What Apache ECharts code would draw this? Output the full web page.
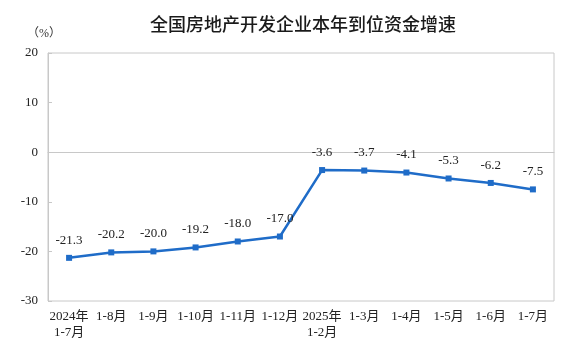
<!DOCTYPE html>
<html>
<head>
<meta charset="utf-8">
<script src="https://cdn.jsdelivr.net/npm/echarts@6/dist/echarts.min.js"></script>
<style>
html,body{margin:0;padding:0;background:#fff;}
#main{width:578px;height:353px;}
</style>
</head>
<body>
<div id="main"></div>
<script>
var categories = ['2024年\n1-7月','1-8月','1-9月','1-10月','1-11月','1-12月','2025年\n1-2月','1-3月','1-4月','1-5月','1-6月','1-7月'];
var growth = [-21.3,-20.2,-20.0,-19.2,-18.0,-17.0,-3.6,-3.7,-4.1,-5.3,-6.2,-7.5];
var yTicks = [-30,-20,-10,0,10,20];

var serif = '"Liberation Serif","Times New Roman","Noto Sans CJK SC",serif';
var myChart = echarts.init(document.getElementById('main'));
var option = {
    backgroundColor:'#fff',
    animation:false,
    title:{
        text:'全国房地产开发企业本年到位资金增速',
        left:298,
        textAlign:'center',
        top:10,
        textStyle:{fontSize:18,fontWeight:500,color:'#1a1a1a',fontFamily:'"Noto Sans CJK SC",sans-serif'}
    },
    graphic:[{
        type:'text',left:27,top:28,
        style:{text:'（%）',fontSize:12,fill:'#333',fontFamily:serif}
    }],
    grid:{left:48,right:24,top:53,bottom:52,show:true,borderColor:'#c8c8c8',borderWidth:1},
    xAxis:{
        type:'category',
        data:categories,
        boundaryGap:true,
        axisLine:{lineStyle:{color:'#c8c8c8'}},
        axisTick:{inside:true,length:4,lineStyle:{color:'#c8c8c8'}},
        axisLabel:{color:'#222',fontSize:13,fontFamily:serif,margin:8,lineHeight:16,interval:0}
    },
    yAxis:{
        type:'value',
        min:yTicks[0],
        max:yTicks[yTicks.length-1],
        interval:10,
        splitLine:{show:false},
        axisLine:{show:true,lineStyle:{color:'#c8c8c8'}},
        axisTick:{show:true,inside:true,length:4,lineStyle:{color:'#c8c8c8'}},
        axisLabel:{color:'#222',fontSize:13,fontFamily:serif,margin:10}
    },
    series:[{
        type:'line',
        data:growth,
        symbol:'rect',
        symbolSize:6,
        lineStyle:{color:'#1f6cc8',width:2.5},
        itemStyle:{color:'#1f6cc8'},
        label:{
            show:true,position:'top',distance:8,
            color:'#222',fontSize:13,fontFamily:serif,
            formatter:function(p){return p.value.toFixed(1);}
        }
    }]
};
myChart.setOption(option);
</script>
</body>
</html>
